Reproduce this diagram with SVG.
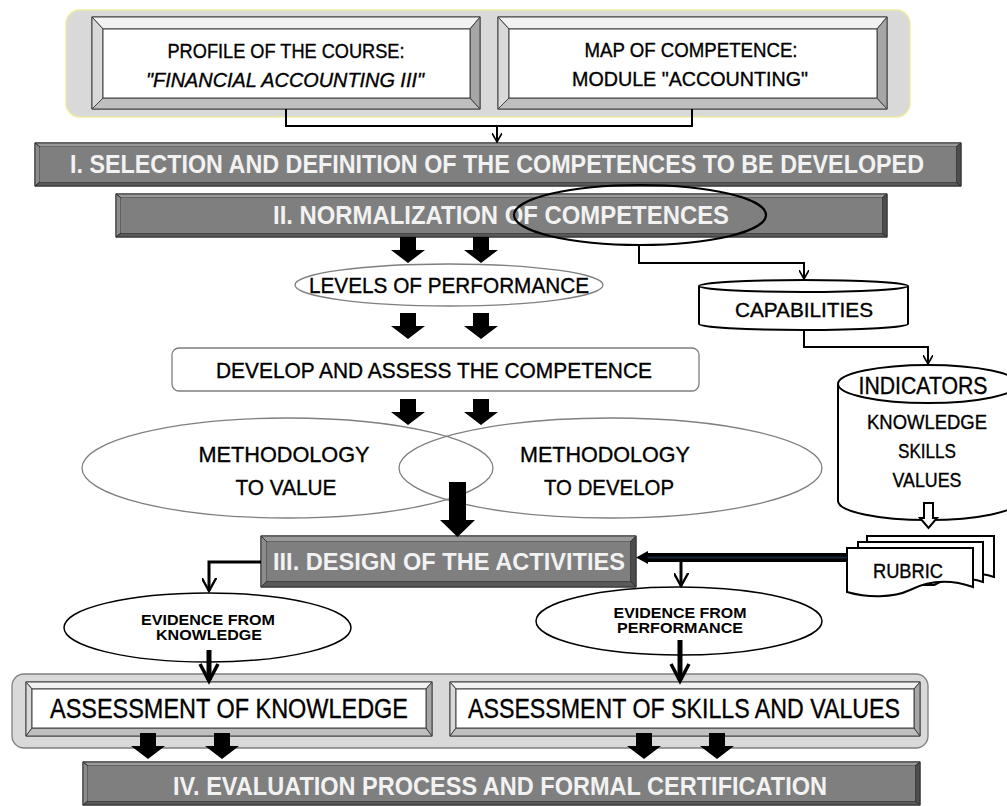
<svg xmlns="http://www.w3.org/2000/svg" width="1007" height="806" viewBox="0 0 1007 806">
<style>
.t{font-family:"Liberation Sans",Arial,sans-serif;fill:#000;stroke:#000;stroke-width:0.35;text-anchor:middle}
.w{font-family:"Liberation Sans",Arial,sans-serif;fill:#f2f2f2;font-weight:bold;text-anchor:middle}
.sm{font-family:"Liberation Sans",Arial,sans-serif;font-weight:bold;font-size:15.5px;text-anchor:middle;fill:#000}
.conn{fill:none;stroke:#000;stroke-width:2}
.conn3{fill:none;stroke:#000;stroke-width:3}
.bt{fill:#f2f2f2;stroke:#404040;stroke-width:1}
.bl{fill:#d9d9d9;stroke:#404040;stroke-width:1}
.bb{fill:#bfbfbf;stroke:#404040;stroke-width:1}
.br{fill:#a6a6a6;stroke:#404040;stroke-width:1}
.bf{fill:#fff;stroke:#404040;stroke-width:1}
.dt{fill:#9a9a9a;stroke:#333;stroke-width:1}
.dl{fill:#8c8c8c;stroke:#333;stroke-width:1}
.db{fill:#595959;stroke:#333;stroke-width:1}
.dr{fill:#4d4d4d;stroke:#333;stroke-width:1}
.df{fill:#7f7f7f;stroke:#333;stroke-width:1}
.ell{fill:#fff;stroke:#7f7f7f;stroke-width:1.3}
.ellb{fill:#fff;stroke:#000;stroke-width:1.5}
</style>
<defs>
<path id="blk" d="M-8 0H8V13H17L0 26L-17 13H-8Z" fill="#000"/>
<marker id="v" viewBox="0 0 10 10" refX="9" refY="5" markerWidth="5" markerHeight="5" orient="auto" markerUnits="strokeWidth">
<path d="M0 0L9 5L0 10" fill="none" stroke="#000" stroke-width="1.6"/>
</marker>
<marker id="v3" viewBox="0 0 10 10" refX="9" refY="5" markerWidth="5" markerHeight="5" orient="auto" markerUnits="strokeWidth">
<path d="M0 0L9 5L0 10" fill="none" stroke="#000" stroke-width="1.6"/>
</marker>
</defs>

<g id="top-container">
<rect x="66" y="10" width="844" height="107" rx="14" fill="#d9d9d9" stroke="#eeeaa0" stroke-width="1.5"/>
</g>

<g id="profile">
<rect x="92" y="17" width="388" height="92" class="bf"/>
<polygon points="92,17 480,17 470,29 103,29" class="bt"/>
<polygon points="92,17 103,29 103,98 92,109" class="bl"/>
<polygon points="92,109 480,109 470,98 103,98" class="bb"/>
<polygon points="480,17 480,109 470,98 470,29" class="br"/>
<rect x="103" y="29" width="367" height="69" class="bf"/>
<text class="t" x="286" y="58" font-size="20" textLength="237" lengthAdjust="spacingAndGlyphs">PROFILE OF THE COURSE:</text>
<text class="t" x="285" y="87" font-size="20" font-style="italic" textLength="278" lengthAdjust="spacingAndGlyphs">"FINANCIAL ACCOUNTING III"</text>
</g>

<g id="map">
<rect x="498" y="17" width="389" height="92" class="bf"/>
<polygon points="498,17 887,17 877,29 509,29" class="bt"/>
<polygon points="498,17 509,29 509,98 498,109" class="bl"/>
<polygon points="498,109 887,109 877,98 509,98" class="bb"/>
<polygon points="887,17 887,109 877,98 877,29" class="br"/>
<rect x="509" y="29" width="368" height="69" class="bf"/>
<text class="t" x="691" y="57" font-size="20" textLength="213" lengthAdjust="spacingAndGlyphs">MAP OF COMPETENCE:</text>
<text class="t" x="690" y="86" font-size="20" textLength="236" lengthAdjust="spacingAndGlyphs">MODULE "ACCOUNTING"</text>
</g>

<g id="bar1">
<rect x="35" y="143" width="926" height="43" class="df"/>
<polygon points="35,143 961,143 956,147 40,147" class="dt"/>
<polygon points="35,143 40,147 40,182 35,186" class="dl"/>
<polygon points="35,186 961,186 956,182 40,182" class="db"/>
<polygon points="961,143 961,186 956,182 956,147" class="dr"/>
<rect x="40" y="147" width="916" height="35" fill="#7f7f7f"/>
<text class="w" x="497" y="173" font-size="25" textLength="854" lengthAdjust="spacingAndGlyphs">I. SELECTION AND DEFINITION OF THE COMPETENCES TO BE DEVELOPED</text>
</g>

<g id="bar2">
<rect x="116" y="194" width="771" height="43" class="df"/>
<polygon points="116,194 887,194 882,198 121,198" class="dt"/>
<polygon points="116,194 121,198 121,233 116,237" class="dl"/>
<polygon points="116,237 887,237 882,233 121,233" class="db"/>
<polygon points="887,194 887,237 882,233 882,198" class="dr"/>
<rect x="121" y="198" width="761" height="35" fill="#7f7f7f"/>
<text class="w" x="501" y="224" font-size="25" textLength="456" lengthAdjust="spacingAndGlyphs">II. NORMALIZATION OF COMPETENCES</text>
<ellipse cx="640" cy="215" rx="126" ry="30" fill="none" stroke="#000" stroke-width="2.2"/>
</g>

<g id="levels">
<ellipse cx="449" cy="285" rx="154" ry="21" class="ell"/>
<text class="t" x="449" y="293" font-size="22" textLength="280" lengthAdjust="spacingAndGlyphs">LEVELS OF PERFORMANCE</text>
</g>

<g id="capabilities">
<path d="M699 286V324A104.5 6 0 0 0 908 324V286" fill="#fff" stroke="#000" stroke-width="2"/>
<ellipse cx="803.5" cy="286" rx="104.5" ry="6" fill="#fff" stroke="#000" stroke-width="2"/>
<text class="t" x="804" y="317" font-size="21" textLength="138" lengthAdjust="spacingAndGlyphs">CAPABILITIES</text>
</g>

<g id="develop">
<rect x="172" y="348" width="527" height="43" rx="7" fill="#fff" stroke="#7f7f7f" stroke-width="1.3"/>
<text class="t" x="434" y="378" font-size="22" textLength="436" lengthAdjust="spacingAndGlyphs">DEVELOP AND ASSESS THE COMPETENCE</text>
</g>

<g id="indicators">
<path d="M838 384V501A90 19 0 0 0 1018 501V384" fill="#fff" stroke="#000" stroke-width="2"/>
<ellipse cx="928" cy="384" rx="90" ry="19" fill="#fff" stroke="#000" stroke-width="2"/>
<text class="t" x="923" y="394" font-size="23" textLength="129" lengthAdjust="spacingAndGlyphs">INDICATORS</text>
<text class="t" x="927" y="429" font-size="20" textLength="120" lengthAdjust="spacingAndGlyphs">KNOWLEDGE</text>
<text class="t" x="927" y="458" font-size="20" textLength="58" lengthAdjust="spacingAndGlyphs">SKILLS</text>
<text class="t" x="927" y="487" font-size="20" textLength="69" lengthAdjust="spacingAndGlyphs">VALUES</text>
</g>

<g id="methodology-value">
<ellipse cx="287.5" cy="468" rx="205.5" ry="50" class="ell"/>
<text class="t" x="284" y="462" font-size="22" textLength="171" lengthAdjust="spacingAndGlyphs">METHODOLOGY</text>
<text class="t" x="286" y="495" font-size="22" textLength="101" lengthAdjust="spacingAndGlyphs">TO VALUE</text>
</g>

<g id="methodology-develop">
<ellipse cx="610.5" cy="468" rx="211.5" ry="50" fill="none" stroke="#7f7f7f" stroke-width="1.3"/>
<text class="t" x="605" y="462" font-size="22" textLength="170" lengthAdjust="spacingAndGlyphs">METHODOLOGY</text>
<text class="t" x="609" y="495" font-size="22" textLength="130" lengthAdjust="spacingAndGlyphs">TO DEVELOP</text>
</g>

<g id="bar3">
<rect x="261" y="536" width="375" height="51" class="df"/>
<polygon points="261,536 636,536 630,542 267,542" class="dt"/>
<polygon points="261,536 267,542 267,581 261,587" class="dl"/>
<polygon points="261,587 636,587 630,581 267,581" class="db"/>
<polygon points="636,536 636,587 630,581 630,542" class="dr"/>
<rect x="267" y="542" width="363" height="39" fill="#7f7f7f"/>
<text class="w" x="449" y="570" font-size="24" textLength="352" lengthAdjust="spacingAndGlyphs">III. DESIGN OF THE ACTIVITIES</text>
</g>

<g id="rubric">
<path d="M867 536H994V577C975 571 958 573 945 580L867 580Z" fill="#fff" stroke="#000" stroke-width="2"/>
<path d="M858 542H983V582C964 576 947 578 934 585L858 585Z" fill="#fff" stroke="#000" stroke-width="2"/>
<path d="M847 548H973V587C950 579 928 581 910 590C893 598 868 598 847 592Z" fill="#fff" stroke="#000" stroke-width="2"/>
<text class="t" x="908" y="578" font-size="20" textLength="70" lengthAdjust="spacingAndGlyphs">RUBRIC</text>
</g>

<g id="evidence-knowledge">
<ellipse cx="207.5" cy="627.5" rx="143.5" ry="34.5" class="ellb"/>
<text class="sm" x="208" y="625" textLength="134" lengthAdjust="spacingAndGlyphs">EVIDENCE FROM</text>
<text class="sm" x="209" y="640" textLength="106" lengthAdjust="spacingAndGlyphs">KNOWLEDGE</text>
</g>

<g id="evidence-performance">
<ellipse cx="679" cy="621" rx="143" ry="34" class="ellb"/>
<text class="sm" x="680" y="618" textLength="133" lengthAdjust="spacingAndGlyphs">EVIDENCE FROM</text>
<text class="sm" x="680" y="633" textLength="126" lengthAdjust="spacingAndGlyphs">PERFORMANCE</text>
</g>

<g id="assessment-container">
<rect x="12" y="674" width="916" height="74" rx="12" fill="#d9d9d9" stroke="#7f7f7f" stroke-width="1.3"/>
</g>

<g id="assessment-knowledge">
<rect x="26" y="682" width="406" height="54" class="bf"/>
<polygon points="26,682 432,682 426,689 32,689" class="bt"/>
<polygon points="26,682 32,689 32,728 26,736" class="bl"/>
<polygon points="26,736 432,736 426,728 32,728" class="bb"/>
<polygon points="432,682 432,736 426,728 426,689" class="br"/>
<rect x="32" y="689" width="394" height="39" class="bf"/>
<text class="t" x="229" y="718" font-size="27" textLength="358" lengthAdjust="spacingAndGlyphs">ASSESSMENT OF KNOWLEDGE</text>
</g>

<g id="assessment-skills">
<rect x="450" y="682" width="470" height="54" class="bf"/>
<polygon points="450,682 920,682 914,689 456,689" class="bt"/>
<polygon points="450,682 456,689 456,728 450,736" class="bl"/>
<polygon points="450,736 920,736 914,728 456,728" class="bb"/>
<polygon points="920,682 920,736 914,728 914,689" class="br"/>
<rect x="456" y="689" width="458" height="39" class="bf"/>
<text class="t" x="684" y="718" font-size="27" textLength="432" lengthAdjust="spacingAndGlyphs">ASSESSMENT OF SKILLS AND VALUES</text>
</g>

<g id="bar4">
<rect x="83" y="762" width="837" height="43" class="df"/>
<polygon points="83,762 920,762 915,766 88,766" class="dt"/>
<polygon points="83,762 88,766 88,801 83,805" class="dl"/>
<polygon points="83,805 920,805 915,801 88,801" class="db"/>
<polygon points="920,762 920,805 915,801 915,766" class="dr"/>
<rect x="88" y="766" width="827" height="35" fill="#7f7f7f"/>
<text class="w" x="500" y="795" font-size="25" textLength="654" lengthAdjust="spacingAndGlyphs">IV. EVALUATION PROCESS AND FORMAL CERTIFICATION</text>
</g>

<g id="connectors">
<path d="M286 109V126H692V109" class="conn"/>
<path d="M497 126V142" class="conn" marker-end="url(#v)"/>
<path d="M639 245V263H804V279" class="conn" marker-end="url(#v)"/>
<path d="M804 330V347H928V364" class="conn" marker-end="url(#v)"/>
<use href="#blk" x="408" y="237"/>
<use href="#blk" x="481" y="237"/>
<use href="#blk" x="408" y="313"/>
<use href="#blk" x="481" y="313"/>
<use href="#blk" x="408" y="399"/>
<use href="#blk" x="481" y="399"/>
<path d="M449 482H466V520H475L457.5 537L440 520H449Z" fill="#000"/>
<path d="M924 503H933V518H937L928.5 528L920 518H924Z" fill="#fff" stroke="#000" stroke-width="2"/>
<path d="M847 557.5H646" fill="none" stroke="#000" stroke-width="9"/>
<path d="M847 557.5H646" fill="none" stroke="#1c2740" stroke-width="2"/>
<path d="M648 551L636 557.5L648 564Z" fill="#000"/>
<path d="M261 562H209V591" class="conn3" marker-end="url(#v3)"/>
<path d="M681 562V586" class="conn3" marker-end="url(#v3)"/>
<path d="M209 650V680" fill="none" stroke="#000" stroke-width="5"/>
<path d="M200 664L209 681L218 664" fill="none" stroke="#000" stroke-width="3.5"/>
<path d="M680 640V680" fill="none" stroke="#000" stroke-width="5"/>
<path d="M671 664L680 681L689 664" fill="none" stroke="#000" stroke-width="3.5"/>
<use href="#blk" x="148" y="733"/>
<use href="#blk" x="222" y="733"/>
<use href="#blk" x="644" y="733"/>
<use href="#blk" x="717" y="733"/>
</g>
</svg>
